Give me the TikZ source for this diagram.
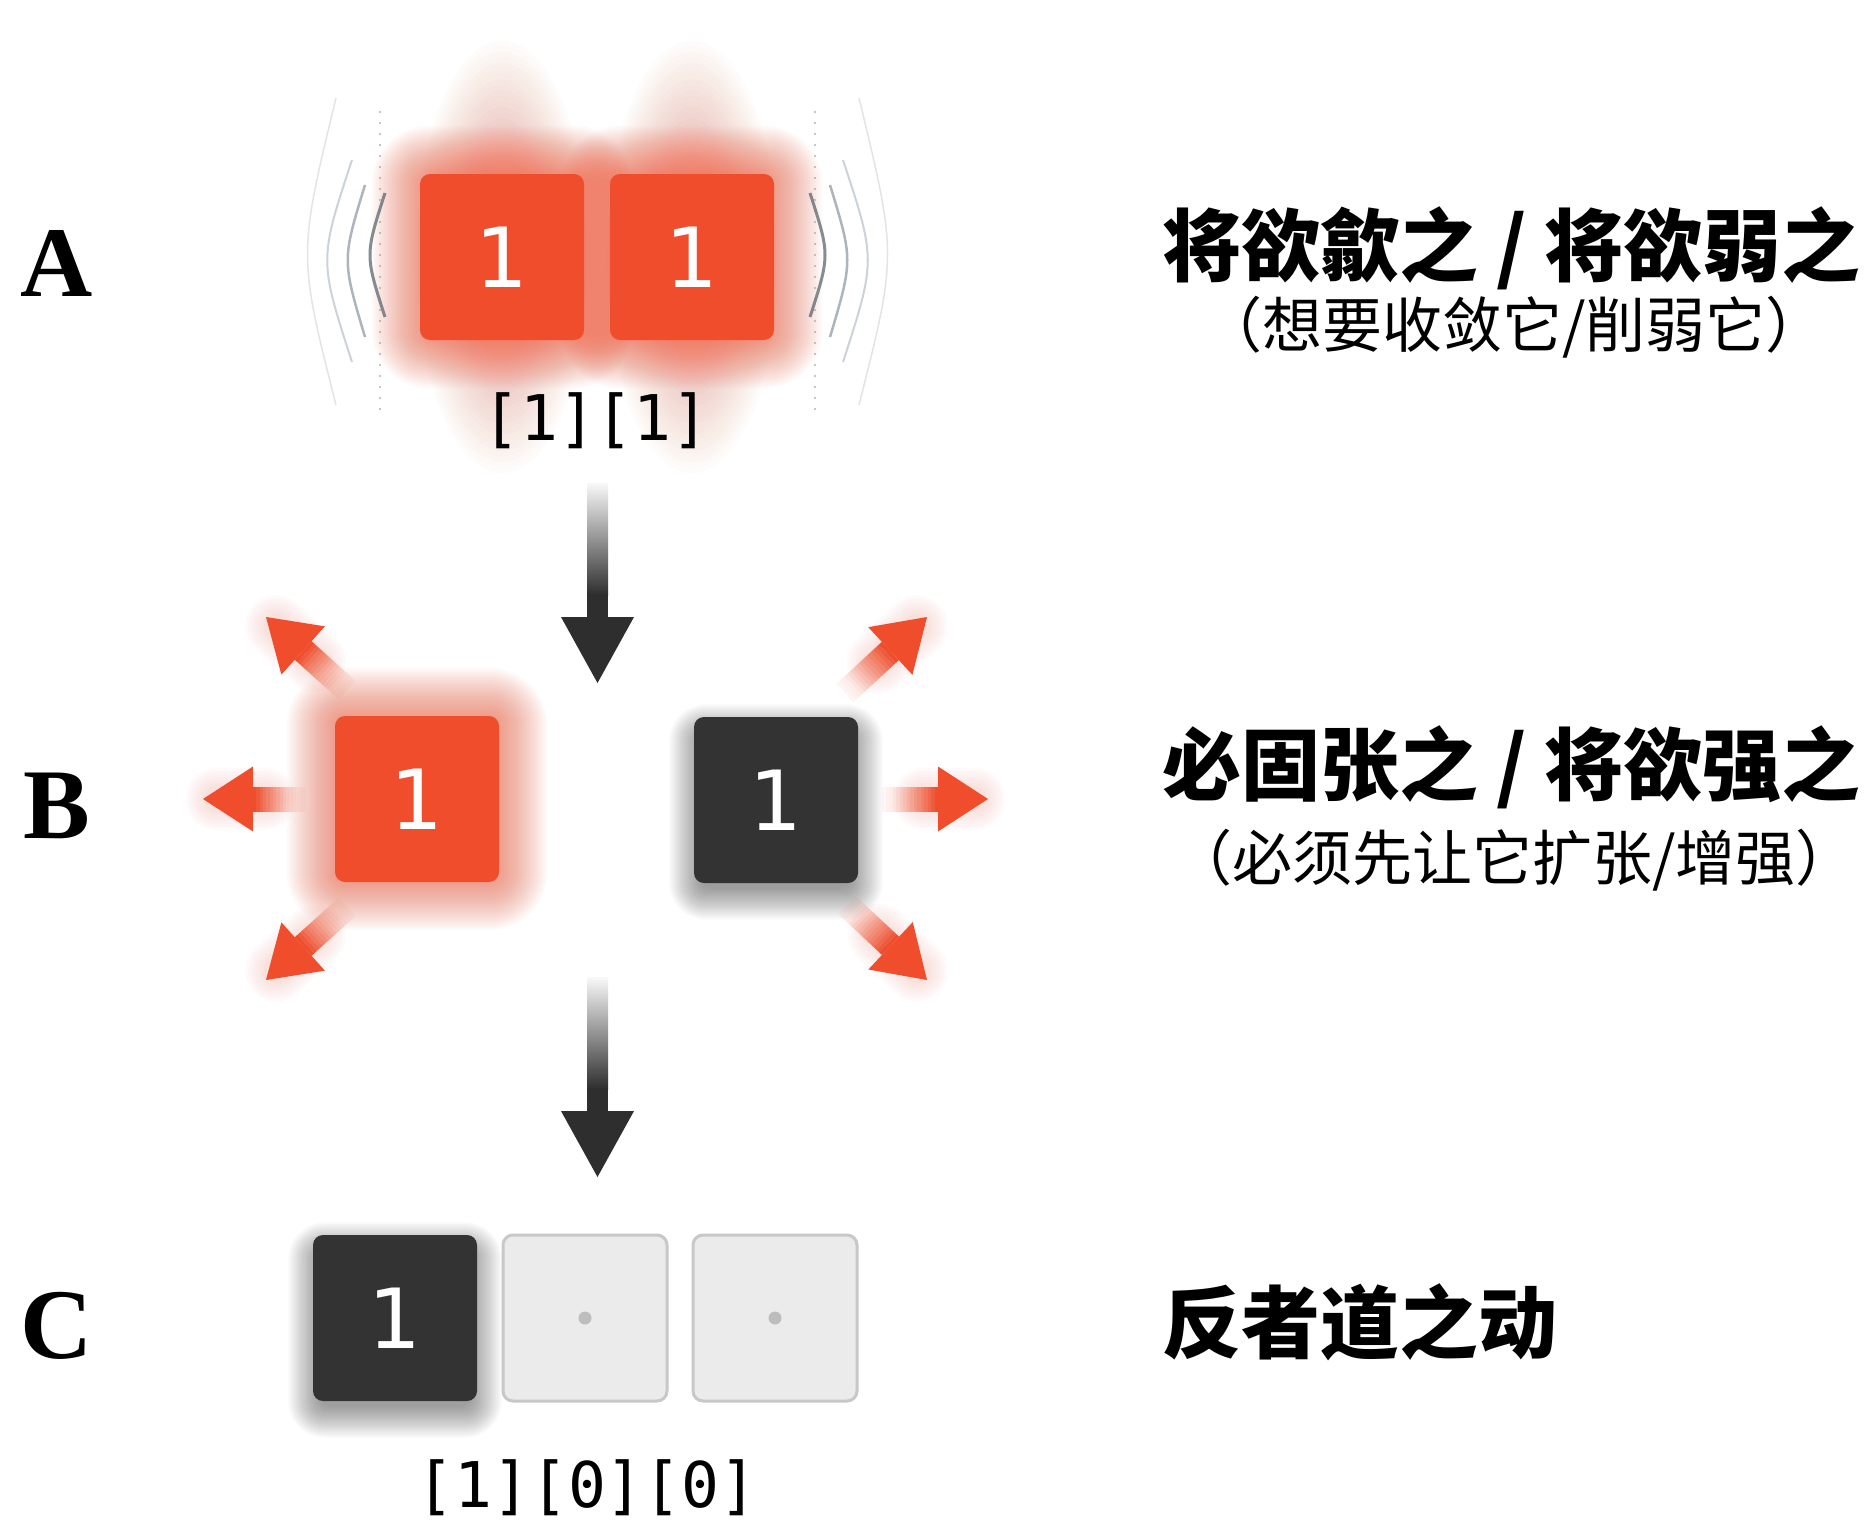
\documentclass[tikz,border=0pt]{standalone}
\usepackage{fontspec}
\setmainfont{Liberation Serif}
\newfontfamily\cjk{Noto Sans CJK SC}
\newfontfamily\digitf{DejaVu Sans}
\newfontfamily\monof{DejaVu Sans Mono}
\usetikzlibrary{calc,backgrounds}
\pgfdeclarelayer{glowlayer}
\pgfsetlayers{background,glowlayer,main}
\definecolor{tred}{HTML}{EF4D2C}
\definecolor{tdark}{HTML}{333333}
\definecolor{tgfill}{HTML}{EBEBEB}
\definecolor{tgline}{HTML}{C8C8C8}
\definecolor{tdot}{HTML}{BDBDBD}
\definecolor{tarrow}{HTML}{2E2E2E}
\definecolor{wav1}{HTML}{5E6670}
\definecolor{wav2}{HTML}{8A96A3}
\definecolor{wav3}{HTML}{AAB5C0}
\definecolor{wav4}{HTML}{CCD4DC}
\tikzset{
  cell/.style={minimum width=164pt, minimum height=166pt, rounded corners=10pt, inner sep=0pt,
    font=\digitf\fontsize{83}{90}\selectfont, text=white},
  redcell/.style={cell, fill=tred},
  darkcell/.style={cell, fill=tdark},
  graycell/.style={cell, fill=tgfill, draw=tgline, line width=3pt},
  rowlabel/.style={anchor=base, inner sep=0pt, font=\bfseries\fontsize{100}{110}\selectfont},
  bits/.style={anchor=base, inner sep=0pt, font=\monof\fontsize{63}{70}\selectfont},
  title/.style={anchor=base west, inner sep=0pt, font=\cjk\bfseries\fontsize{79}{90}\selectfont},
  subtitle/.style={anchor=base, inner sep=0pt, font=\cjk\fontsize{60}{70}\selectfont},
  waveA/.style={wav1, opacity=0.75, line width=3pt},
  waveB/.style={wav2, opacity=0.7, line width=2.5pt},
  waveC/.style={wav3, opacity=0.6, line width=2pt},
  waveD/.style={wav4, opacity=0.6, line width=1.5pt},
  dotline/.style={gray, opacity=0.6, line width=2.4pt, line cap=round, dash pattern=on 0pt off 11pt},
}
% soft glow around a box node
\newcommand\boxglow[1]{%
  \foreach \k in {1,...,24}{%
    \pgfmathsetmacro\dd{\k*2}
    \pgfmathsetmacro\rc{10+\dd}
    \fill[tred, opacity=0.028, rounded corners=\rc pt]
      ($(#1.south west)+(-\dd,\dd)$) rectangle ($(#1.north east)+(\dd,-\dd)$);
  }}
% soft shadow under a dark node
\newcommand\boxshadow[1]{%
  \foreach \k in {1,...,18}{%
    \pgfmathsetmacro\dd{\k*1.8-8}
    \pgfmathsetmacro\de{\dd+12}
    \pgfmathsetmacro\df{-\dd+12}
    \pgfmathsetmacro\rc{12+max(\dd,0)}
    \fill[black, opacity=0.022, rounded corners=\rc pt]
      ($(#1.south west)+(-\dd,\de)$) rectangle ($(#1.north east)+(\dd,\df)$);
  }}
% red radiating arrow: #1 = faded start, #2 = tip
\newcommand\radiate[2]{%
  \begin{pgfonlayer}{glowlayer}
    \foreach \w in {26,32,...,62}{%
      \draw[tred, opacity=0.022, line width=\w pt, line cap=round]
        ($(#1)!0.4!(#2)$) -- ($(#2)!14pt!(#1)$);
    }
  \end{pgfonlayer}
  \coordinate (hb) at ($(#2)!50pt!(#1)$);
  \foreach \i in {0,...,15}{%
    \pgfmathsetmacro\ta{\i/16}
    \pgfmathsetmacro\tb{(\i+1)/16}
    \pgfmathsetmacro\op{0.04+0.96*((\i+1)/16)^1.6}
    \coordinate (pa) at ($(#1)!\ta!(hb)$);
    \coordinate (pb) at ($(#1)!\tb!(hb)$);
    \fill[tred, opacity=\op] ($(pa)!12.5pt!90:(#2)$) -- ($(pb)!12.5pt!90:(#2)$)
      -- ($(pb)!12.5pt!-90:(#2)$) -- ($(pa)!12.5pt!-90:(#2)$) -- cycle;
  }
  \fill[tred] (#2) -- ($(hb)!32.5pt!90:(#2)$) -- ($(hb)!32.5pt!-90:(#2)$) -- cycle;
}
% dark downward arrow from #1 to tip #2
\newcommand\flowarrow[2]{%
  \shade[top color=tarrow!3, bottom color=tarrow] ($(#1)+(-10.5,0)$) rectangle ($(#1)+(10.5,112)$);
  \fill[tarrow] ($(#1)+(-10.5,111)$) rectangle ($(#2)+(10.5,-65)$);
  \fill[tarrow] (#2) -- ($(#2)+(-36.5,-66)$) -- ($(#2)+(36.5,-66)$) -- cycle;
}
\begin{document}
\begin{tikzpicture}[x=1pt,y=-1pt]
\begin{pgfonlayer}{background}
  \fill[white] (0,0) rectangle (1869,1520);
\end{pgfonlayer}
\useasboundingbox (0,0) rectangle (1869,1520);

% row labels
\node[rowlabel] (LA) at (57,296) {A};
\node[rowlabel] (LB) at (57,838) {B};
\node[rowlabel] (LC) at (57,1358) {C};

% row A
\node[redcell] (a1) at (502,257) {1};
\node[redcell] (a2) at (692,257) {1};
\node[bits] (abits) at (596,440) {[1][1]};

% row B
\node[redcell] (b1) at (417,799) {1};
\node[darkcell] (b2) at (776,800) {1};

% row C
\node[darkcell] (c1) at (395,1318) {1};
\node[graycell] (c2) at (585,1318) {};
\node[graycell] (c3) at (775,1318) {};
\fill[tdot] (c2) circle (6.5);
\fill[tdot] (c3) circle (6.5);
\node[bits] (cbits) at (587,1507) {[1][0][0]};

% glows and shadows
\begin{pgfonlayer}{glowlayer}
  \foreach \k in {1,...,22}{%
    \fill[tred, opacity=0.016] (a1) ellipse ({30+\k*2.6} and {95+\k*5.5});
    \fill[tred, opacity=0.016] (a2) ellipse ({30+\k*2.6} and {95+\k*5.5});
  }
  \boxglow{a1}
  \boxglow{a2}
  \boxglow{b1}
  \boxshadow{b2}
  \boxshadow{c1}
\end{pgfonlayer}

% wave arcs around row A
\draw[waveA] (385,193) .. controls (365,255) .. (385,317);
\draw[waveB] (365,185) .. controls (342,260) .. (365,337);
\draw[waveC] (352,160) .. controls (319,260) .. (352,362);
\draw[waveD] (336,98) .. controls (298,255) .. (336,405);
\draw[dotline] (380,112) -- (380,410);
\draw[waveA] (810,193) .. controls (830,255) .. (810,317);
\draw[waveB] (830,185) .. controls (853,260) .. (830,337);
\draw[waveC] (843,160) .. controls (876,260) .. (843,362);
\draw[waveD] (859,98) .. controls (897,255) .. (859,405);
\draw[dotline] (815,112) -- (815,410);

% flow arrows
\coordinate (f1s) at (597.5,483);
\coordinate (f1e) at (597.5,683);
\coordinate (f2s) at (597.5,977);
\coordinate (f2e) at (597.5,1177);
\flowarrow{f1s}{f1e}
\flowarrow{f2s}{f2e}

% radiating arrows
\coordinate (ulS) at (347,690);  \coordinate (ulT) at (266,617);
\coordinate (lS)  at (306,799);  \coordinate (lT)  at (203,799);
\coordinate (llS) at (347,907);  \coordinate (llT) at (266,980);
\coordinate (urS) at (845,693);  \coordinate (urT) at (927,617);
\coordinate (rS)  at (882,799);  \coordinate (rT)  at (988,799);
\coordinate (lrS) at (847,905);  \coordinate (lrT) at (927,980);
\radiate{ulS}{ulT}
\radiate{lS}{lT}
\radiate{llS}{llT}
\radiate{urS}{urT}
\radiate{rS}{rT}
\radiate{lrS}{lrT}

% texts
\node[title] (tA) at (1162,275) {将欲歙之 / 将欲弱之};
\node[subtitle] (sA) at (1514,347) {（想要收敛它/削弱它）};
\node[title] (tB) at (1162,794) {必固张之 / 将欲强之};
\node[subtitle] (sB) at (1514,880) {（必须先让它扩张/增强）};
\node[title] (tC) at (1162,1352) {反者道之动};
\end{tikzpicture}
\end{document}
